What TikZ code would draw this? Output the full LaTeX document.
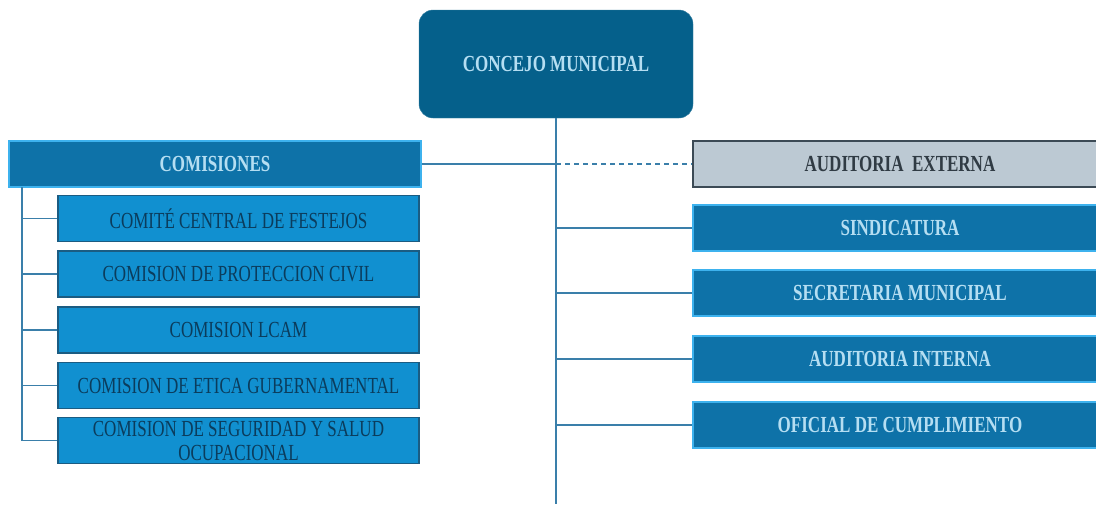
\documentclass[tikz,border=0pt]{standalone}
\usepackage{fontspec}
\setmainfont{Liberation Serif}
\newfontfamily\orgfont[FakeStretch=0.74]{Liberation Serif}
\usepackage{tikz}
\usetikzlibrary{positioning}
\definecolor{concejoblue}{HTML}{05608B}
\definecolor{midblue}{HTML}{0E72A8}
\definecolor{brightblue}{HTML}{1190D0}
\definecolor{edgelight}{HTML}{3DB2EE}
\definecolor{edgedark}{HTML}{1B5C82}
\definecolor{extgray}{HTML}{BCC9D3}
\definecolor{extedge}{HTML}{3C4A55}
\definecolor{linecol}{HTML}{3A7FAA}
\definecolor{paletext}{HTML}{B5DEF2}
\definecolor{darktext}{HTML}{0B3C5C}
\tikzset{
	orgline/.style = {draw=linecol, line width=1.6pt},
	orgbox/.style = {rectangle, inner sep=0pt, minimum height=46pt, font=\orgfont\fontsize{23}{24}\selectfont, align=center},
	headbox/.style = {orgbox, fill=midblue, draw=edgelight, line width=1.5pt, text=paletext, font=\orgfont\bfseries\fontsize{23}{24}\selectfont},
	subbox/.style = {orgbox, fill=brightblue, draw=edgedark, line width=1.2pt, text=darktext, minimum width=361pt},
}

\begin{document}
\begin{tikzpicture}[x=1pt,y=-1pt]
		\clip (0,0) rectangle (1096,504);
		\node (concejo) at (556,64) [rectangle, rounded corners=14pt, fill=concejoblue, draw=concejoblue!80!white, minimum width=274pt, minimum height=108pt, text=paletext, font=\orgfont\bfseries\fontsize{23}{24}\selectfont] {CONCEJO MUNICIPAL};
		\coordinate (trunkend) at (556,504);
		\node (comisiones) at (215,164) [headbox, minimum width=412pt] {COMISIONES};
		\node (c1) at (238.5,218.5) [subbox] {COMITÉ CENTRAL DE FESTEJOS};
		\node (c2) at (238.5,274) [subbox] {COMISION DE PROTECCION CIVIL};
		\node (c3) at (238.5,330) [subbox] {COMISION LCAM};
		\node (c4) at (238.5,385.5) [subbox] {COMISION DE ETICA GUBERNAMENTAL};
		\node (c5) at (238.5,440.5) [subbox] {COMISION DE SEGURIDAD Y SALUD\\OCUPACIONAL};
		\coordinate (lefttrunk) at (22,187);
		\node (externa) at (900,164) [orgbox, fill=extgray, draw=extedge, line width=1.2pt, text=extedge!80!black, minimum width=414pt, font=\orgfont\bfseries\fontsize{23}{24}\selectfont] {AUDITORIA\ \ EXTERNA};
		\node (sindicatura) at (900,228) [headbox, minimum width=414pt] {SINDICATURA};
		\node (secretaria) at (900,293) [headbox, minimum width=414pt] {SECRETARIA MUNICIPAL};
		\node (interna) at (900,359) [headbox, minimum width=414pt] {AUDITORIA INTERNA};
		\node (oficial) at (900,425) [headbox, minimum width=414pt] {OFICIAL DE CUMPLIMIENTO};
		\path [orgline] (concejo.south) -- (trunkend);
		\path [orgline] (comisiones.east) -- (concejo.south |- comisiones.east);
		\path [orgline, dashed, dash pattern=on 5pt off 4pt] (concejo.south |- externa.west) -- (externa.west);
		\path [orgline] (concejo.south |- sindicatura.west) -- (sindicatura.west);
		\path [orgline] (concejo.south |- secretaria.west) -- (secretaria.west);
		\path [orgline] (concejo.south |- interna.west) -- (interna.west);
		\path [orgline] (concejo.south |- oficial.west) -- (oficial.west);
		\path [orgline] (lefttrunk) -- (lefttrunk |- c5.west) -- (c5.west);
		\path [orgline] (lefttrunk |- c1.west) -- (c1.west);
		\path [orgline] (lefttrunk |- c2.west) -- (c2.west);
		\path [orgline] (lefttrunk |- c3.west) -- (c3.west);
		\path [orgline] (lefttrunk |- c4.west) -- (c4.west);
	\end{tikzpicture}
\end{document}
